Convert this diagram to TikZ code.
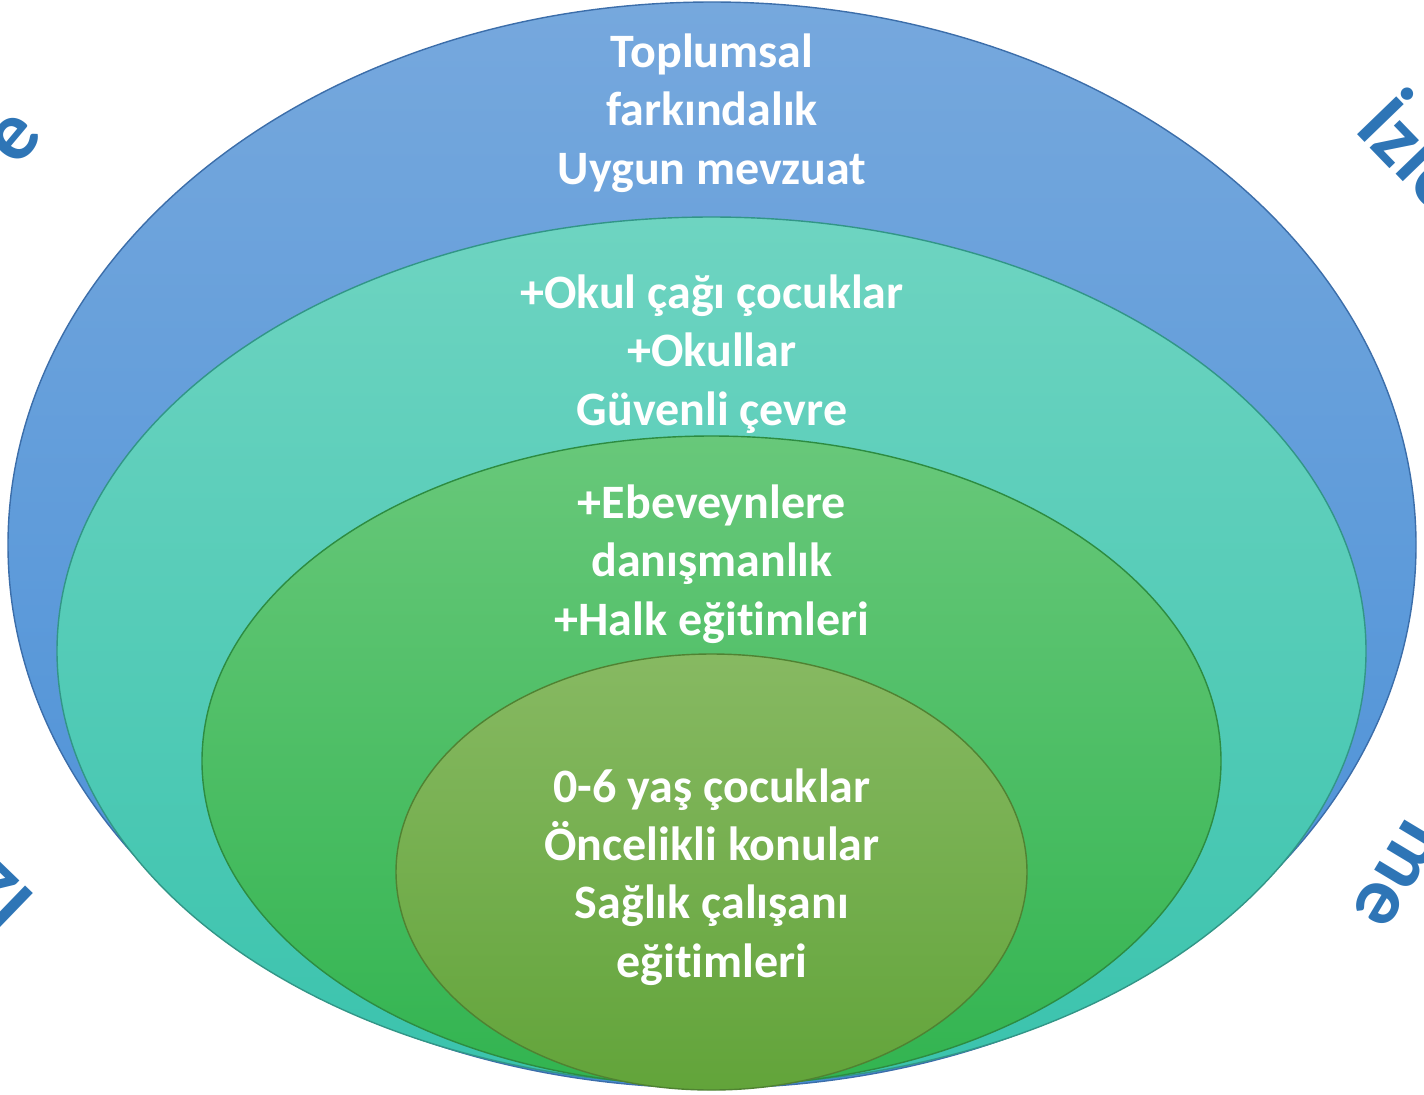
\documentclass[tikz,border=0pt]{standalone}
\usepackage{fontspec}
\setmainfont{Carlito}[Ligatures={NoCommon,NoContextual}]
\usetikzlibrary{shapes.geometric}
\definecolor{blueT}{RGB}{118,168,221}
\definecolor{blueB}{RGB}{72,143,215}
\definecolor{blueD}{RGB}{60,110,170}
\definecolor{tealT}{RGB}{110,212,193}
\definecolor{tealB}{RGB}{58,195,173}
\definecolor{tealD}{RGB}{50,150,135}
\definecolor{greenT}{RGB}{104,200,122}
\definecolor{greenB}{RGB}{50,180,80}
\definecolor{greenD}{RGB}{45,140,65}
\definecolor{oliveT}{RGB}{135,185,98}
\definecolor{oliveB}{RGB}{98,164,58}
\definecolor{oliveD}{RGB}{80,130,50}
\definecolor{cornerblue}{RGB}{46,117,182}
\begin{document}
\begin{tikzpicture}[x=0.5pt,y=-0.5pt,
  ring/.style={ellipse, inner sep=0, line width=0.7pt},
  lbl/.style={text=white, font=\bfseries\fontsize{24}{29.2}\selectfont, align=center, inner sep=0},
  corner/.style={text=cornerblue, font=\bfseries\fontsize{42}{50}\selectfont, inner sep=0}]
\useasboundingbox (0,0) rectangle (1424,1094);
\clip (0,0) rectangle (1424,1094);
% corner texts
\node[corner, rotate=-46, anchor=base west] (tr) at (1353,130) {İzle};
\node[corner, rotate=-121, anchor=base east] (br) at (1350,911) {me};
\node[corner, rotate=136, anchor=base west] (bl) at (38,898) {İz};
\node[corner, rotate=50, anchor=base east] (tl) at (45,136) {e};
% ellipses
\node[ring, minimum width=704pt, minimum height=543pt, top color=blueT, bottom color=blueB, draw=blueD] (outer) at (712,545) {};
\node[ring, minimum width=654.5pt, minimum height=434pt, top color=tealT, bottom color=tealB, draw=tealD] (teal) at (711.5,651) {};
\node[ring, minimum width=509.5pt, minimum height=325pt, top color=greenT, bottom color=greenB, draw=greenD] (green) at (711.5,761) {};
\node[ring, minimum width=315.5pt, minimum height=218pt, top color=oliveT, bottom color=oliveB, draw=oliveD] (inner) at (711.5,872) {};
% labels
\node[lbl] (t1) at (712,113) {Toplumsal\\farkındalık\\Uygun mevzuat};
\node[lbl] (t2) at (712,354) {+Okul çağı çocuklar\\+Okullar\\Güvenli çevre};
\node[lbl] (t3) at (712,564) {+Ebeveynlere\\danışmanlık\\+Halk eğitimleri};
\node[lbl] (t4) at (712,877) {0-6 yaş çocuklar\\Öncelikli konular\\Sağlık çalışanı\\eğitimleri};
\end{tikzpicture}
\end{document}
